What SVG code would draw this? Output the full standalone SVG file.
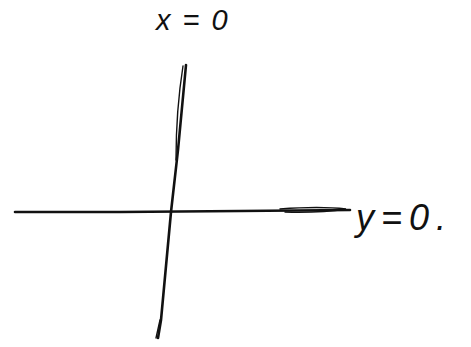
<svg xmlns="http://www.w3.org/2000/svg" width="471" height="347" viewBox="0 0 471 347">
<style>
.ax{fill:none;stroke:#111;stroke-width:2.6;stroke-linecap:round}
.thin{fill:none;stroke:#111;stroke-width:1.4;stroke-linecap:round}
.lbl{font-family:"Liberation Sans",sans-serif;font-style:italic;fill:#111}
</style>
<rect width="471" height="347" fill="#fff"/>
<g id="connectors">
<path class="ax" d="M15 212 L120 212 L240 211 L350 210"/>
<path class="thin" d="M280 209 Q320 206 346 209 Q320 213 285 212"/>
<path class="ax" d="M186 65 L178 150 L171 212 L161 320 L158 338"/>
<path class="thin" d="M183 66 Q176 110 176 160"/>
<path class="thin" d="M160 320 L156 338"/>
</g>
<g id="label-x">
<text class="lbl" x="156" y="30" font-size="29" letter-spacing="12">x=0</text>
</g>
<g id="label-y">
<text class="lbl" x="356" y="230" font-size="36" letter-spacing="7">y=0.</text>
</g>
</svg>
